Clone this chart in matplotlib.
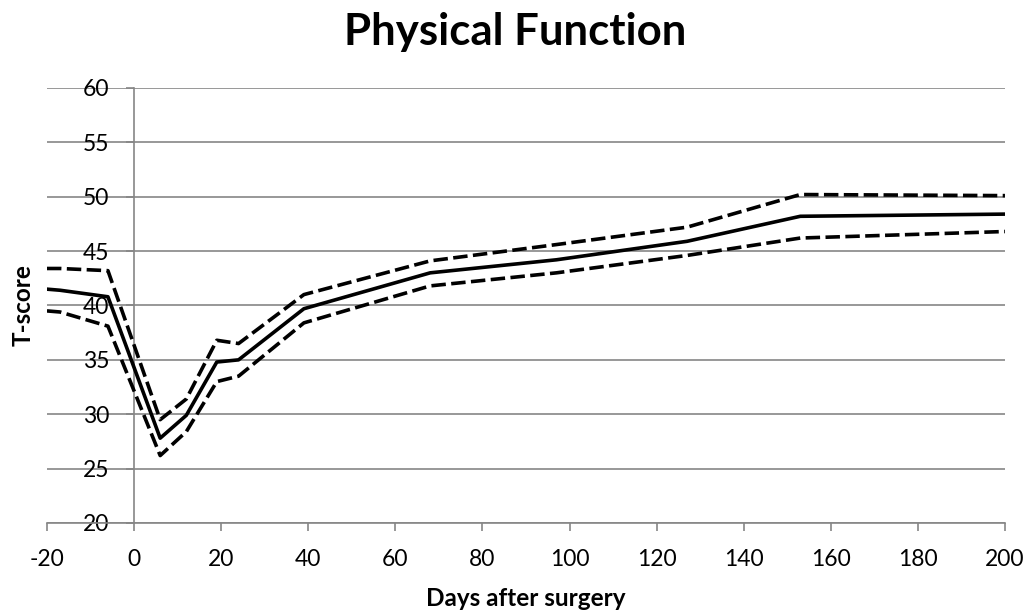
import matplotlib.pyplot as plt

days = [-20, -17, -6, 6, 12, 19, 24, 39, 68, 97, 127, 153, 200]
mean_score = [41.5, 41.4, 40.8, 27.8, 29.9, 34.8, 35.0, 39.7, 43.0, 44.2, 45.9, 48.2, 48.4]
upper_ci = [43.4, 43.4, 43.2, 29.5, 31.4, 36.8, 36.5, 41.0, 44.1, 45.6, 47.2, 50.2, 50.1]
lower_ci = [39.5, 39.4, 38.1, 26.2, 28.4, 33.0, 33.5, 38.4, 41.8, 43.0, 44.6, 46.2, 46.8]

x_ticks = list(range(-20, 201, 20))
y_ticks = list(range(20, 61, 5))

plt.rcParams['font.family'] = ['Lato', 'DejaVu Sans']
plt.rcParams['axes.unicode_minus'] = False
grey = '#868686'

fig = plt.figure(figsize=(10.3, 6.15), dpi=100)
ax = fig.add_axes([0.0456, 0.1496, 0.9301, 0.7074])

dash = (0, (4.0, 1.5))
ax.plot(days, upper_ci, color='black', lw=2.6, linestyle=dash, zorder=3)
ax.plot(days, lower_ci, color='black', lw=2.6, linestyle=dash, zorder=3)
ax.plot(days, mean_score, color='black', lw=2.6, zorder=4)

ax.set_xlim(-20, 200)
ax.set_ylim(20, 60)
ax.set_xticks(x_ticks)
ax.set_yticks(y_ticks)

ax.spines['left'].set_position(('data', 0))
ax.spines['top'].set_visible(False)
ax.spines['right'].set_visible(False)
for s in ('left', 'bottom'):
    ax.spines[s].set_color(grey)
    ax.spines[s].set_linewidth(1.2)

ax.yaxis.grid(True, color=grey, lw=1.2)
ax.set_axisbelow(True)
ax.tick_params(axis='both', colors=grey, length=6, width=1.2, labelsize=16.5,
               labelcolor='black')
ax.tick_params(axis='y', pad=12)
ax.tick_params(axis='x', pad=13)

ax.set_xlabel('Days after surgery', fontsize=17.5, fontweight='bold', labelpad=12)
ax.set_ylabel('T-score', fontsize=17.5, fontweight='bold')
ax.yaxis.set_label_coords(-0.0125, 0.5, transform=ax.transAxes)

fig.text(0.5, 0.948, 'Physical Function', ha='center', va='center',
         fontsize=31.5, fontweight='bold')

fig.savefig('out.png', dpi=100)
